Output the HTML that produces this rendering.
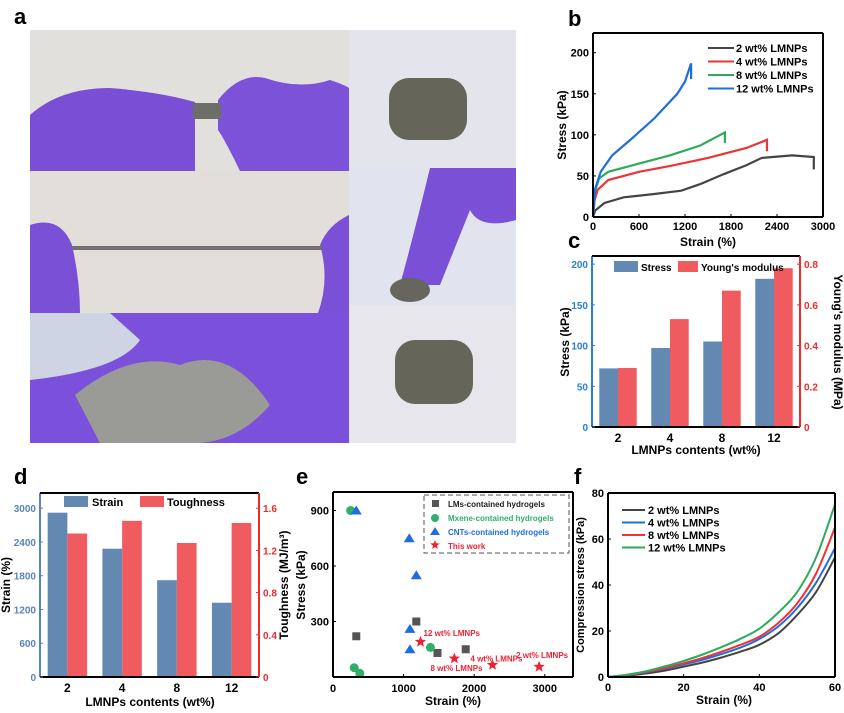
<!DOCTYPE html>
<html><head><meta charset="utf-8"><style>
html,body{margin:0;padding:0;background:#fff;}
svg{display:block;font-family:"Liberation Sans",Arial,sans-serif;}
text{font-weight:bold;}
</style></head><body>
<svg id="fig" width="844" height="713" viewBox="0 0 844 713">
<g>
<text x="14" y="24" font-size="22">a</text>
<rect x="30" y="30" width="319" height="141" fill="#e2e0dd"/>
<path d="M30 115 Q60 88 110 88 Q160 92 195 102 L195 171 L30 171Z" fill="#7a4fd6"/>
<path d="M218 100 Q240 72 265 78 Q300 90 330 80 Q345 85 349 88 L349 171 L240 171 Q225 140 218 130Z" fill="#7b52d8"/>
<rect x="193" y="103" width="28" height="16" fill="#6e6e68"/>
<rect x="30" y="171" width="319" height="142" fill="#e2dfdb"/>
<path d="M30 225 Q60 215 72 245 Q80 280 80 313 L30 313Z" fill="#7a50d6"/>
<path d="M349 215 Q328 225 320 245 Q330 280 318 313 L349 313Z" fill="#7a50d6"/>
<rect x="72" y="246" width="250" height="4" fill="#707070"/>
<rect x="30" y="313" width="319" height="130" fill="#cfd4e4"/>
<path d="M110 313 L349 313 L349 443 L30 443 L30 380 Q120 370 140 340Z" fill="#7b50db"/>
<path d="M75 395 Q130 350 180 365 Q230 345 270 405 Q240 440 200 443 L100 443Z" fill="#9a9a96"/>
<rect x="349" y="30" width="167" height="138" fill="#e4e4ec"/>
<rect x="389" y="78" width="78" height="62" rx="20" fill="#66655a"/>
<rect x="349" y="168" width="167" height="137" fill="#e1e3ee"/>
<path d="M430 168 L516 168 L516 220 Q480 230 470 210 L440 285 L400 285 Q415 230 430 168Z" fill="#7a50d6"/>
<ellipse cx="410" cy="290" rx="20" ry="12" fill="#66665f"/>
<rect x="349" y="305" width="167" height="138" fill="#e6e6ec"/>
<rect x="395" y="340" width="78" height="64" rx="20" fill="#66655a"/>
</g>
<g id="pb"></g>
<g id="pc"></g>
<g id="pd"></g>
<g id="pe"></g>
<g id="pf"></g>
</svg>
<script>
const bSeriesNames = ["2 wt% LMNPs","4 wt% LMNPs","8 wt% LMNPs","12 wt% LMNPs"];
const bColors = ["#444444","#ee3333","#2eaa5a","#1f6ee0"];
const b2 = [[0,0],[30,8],[150,17],[400,24],[800,28],[1150,32],[1400,40],[1700,52],[2000,63],[2200,72],[2600,75],[2880,73],[2880,58]];
const b4 = [[0,0],[20,20],[60,33],[200,45],[600,55],[1000,62],[1500,72],[2000,84],[2270,94],[2270,80]];
const b8 = [[0,0],[20,30],[80,47],[200,55],[600,65],[1000,75],[1400,87],[1720,103],[1720,90]];
const b12 = [[0,0],[30,35],[100,55],[250,75],[500,95],[800,120],[1100,150],[1200,165],[1280,187],[1280,168]];
const bXTicks = [0,600,1200,1800,2400,3000];
const bYTicks = [0,50,100,150,200];

const cCategories = ["2","4","8","12"];
const cStress = [72,97,105,182];
const cModulus = [0.29,0.53,0.67,0.78];
const cLeftTicks = [0,50,100,150,200];
const cRightTicks = [0,0.2,0.4,0.6,0.8];

const dCategories = ["2","4","8","12"];
const dStrain = [2920,2280,1720,1320];
const dTough = [1.36,1.48,1.27,1.46];
const dLeftTicks = [0,600,1200,1800,2400,3000];
const dRightTicks = [0,0.4,0.8,1.2,1.6];

const eSquares = [[330,220],[1180,300],[1480,130],[1880,150]];
const eCircles = [[250,900],[300,50],[380,20],[1380,160]];
const eTriangles = [[330,900],[1080,750],[1180,550],[1090,260],[1090,150]];
const eStars = [[1240,190],[1720,100],[2260,65],[2920,55]];
const eStarLabels = ["12 wt% LMNPs","4 wt% LMNPs","8 wt% LMNPs","2 wt% LMNPs"];
const eXTicks = [0,1000,2000,3000];
const eYTicks = [300,600,900];

const fStrain = [0,5,10,15,20,25,30,35,40,45,50,55,60];
const f2 = [0,0.6,1.5,2.8,4.5,6.3,8.5,11,14,19,27,37,52];
const f4 = [0,0.8,2,3.6,5.5,7.5,10,12.8,16.5,22,30,41,56];
const f8 = [0,0.9,2.2,3.9,6,8.3,11,14,17.5,23.5,32,45,65];
const f12 = [0,1,2.5,4.6,7,9.8,13,16.6,21,28,37,52,75];
const fNames = ["2 wt%  LMNPs","4 wt%  LMNPs","8 wt%  LMNPs","12 wt% LMNPs"];
const fColors = ["#444444","#1f6ee0","#ee3333","#2eaa5a"];
const fXTicks = [0,20,40,60];
const fYTicks = [0,20,40,60,80];

const NS="http://www.w3.org/2000/svg";
function mk(parent,tag,attrs,txt){const e=document.createElementNS(NS,tag);for(const k in attrs)e.setAttribute(k,attrs[k]);if(txt!==undefined)e.textContent=txt;parent.appendChild(e);return e;}
function lin(d0,d1,r0,r1){return v=>r0+(v-d0)/(d1-d0)*(r1-r0);}
function frame(g,x0,y0,x1,y1,lc,rc,tc){
  let l=mk(g,'line',{x1:x0,y1:y0,x2:x0,y2:y1,stroke:lc||'#000','stroke-width':2});
  
  let b=mk(g,'line',{x1:x0,y1:y1,x2:x1,y2:y1,stroke:'#000','stroke-width':2});
  
  mk(g,'line',{x1:x0,y1:y0,x2:x1,y2:y0,stroke:tc||'#000','stroke-width':2});
  mk(g,'line',{x1:x1,y1:y0,x2:x1,y2:y1,stroke:rc||'#000','stroke-width':2});
}
function txt(g,x,y,s,size,anchor,fill,name,rot){
  const a={x:x,y:y,'font-size':size,'text-anchor':anchor||'middle',fill:fill||'#000'};
  if(rot)a.transform=`rotate(${rot} ${x} ${y})`;
  const t=mk(g,'text',a,s);
  return t;
}
function pathFrom(pts,sx,sy){return pts.map((p,i)=>(i?'L':'M')+sx(p[0]).toFixed(1)+' '+sy(p[1]).toFixed(1)).join(' ');}
function smooth(pts){let d='M'+pts[0][0].toFixed(1)+' '+pts[0][1].toFixed(1);
 for(let i=0;i<pts.length-1;i++){const p0=pts[Math.max(0,i-1)],p1=pts[i],p2=pts[i+1],p3=pts[Math.min(pts.length-1,i+2)];
  const c1=[p1[0]+(p2[0]-p0[0])/6,p1[1]+(p2[1]-p0[1])/6],c2=[p2[0]-(p3[0]-p1[0])/6,p2[1]-(p3[1]-p1[1])/6];
  d+=`C${c1[0].toFixed(1)} ${c1[1].toFixed(1)} ${c2[0].toFixed(1)} ${c2[1].toFixed(1)} ${p2[0].toFixed(1)} ${p2[1].toFixed(1)}`;}
 return d;}

(function(){
 const g=document.getElementById('pb');
 const X0=593,X1=823,Y0=33,Y1=217;
 const sx=lin(0,3000,X0,X1), sy=lin(0,224,Y1,Y0);
 txt(g,568,26,'b',22,'start','#000','panel-label-b');
 [b2,b4,b8,b12].forEach((s,i)=>{const p=mk(g,'path',{d:pathFrom(s,sx,sy),fill:'none',stroke:bColors[i],'stroke-width':2.2});
   });
 frame(g,X0,Y0,X1,Y1);
 bXTicks.forEach(v=>{mk(g,'line',{x1:sx(v),y1:Y1,x2:sx(v),y2:Y1-3,stroke:'#000'});txt(g,sx(v),Y1+13,String(v),11,'middle','#000','x-tick-label');});
 bYTicks.forEach(v=>{mk(g,'line',{x1:X0,y1:sy(v),x2:X0+3,y2:sy(v),stroke:'#000'});txt(g,X0-4,sy(v)+4,String(v),11,'end','#000','y-tick-label');});
 txt(g,708,246,'Strain (%)',12,'middle','#000','x-axis-title');
 txt(g,566,125,'Stress (kPa)',12,'middle','#000','y-axis-title',-90);
 bSeriesNames.forEach((n,i)=>{const y=52+i*13.5;mk(g,'line',{x1:708,y1:y-4,x2:734,y2:y-4,stroke:bColors[i],'stroke-width':2});
   txt(g,736,y,n,11,'start','#000','legend-entry');});
})();

function bars(gid,X0,X1,Y0,Y1,cats,s1,s2,lmax,rmax,lt,rt,lblFmt,opt){
 const g=document.getElementById(gid);
 const syl=lin(0,lmax,Y1,Y0), syr=lin(0,rmax,Y1,Y0);
 const bw=(X1-X0)/cats.length, w=bw*0.36;
 cats.forEach((c,i)=>{
   const cx=X0+bw*(i+0.5);
   let r1=mk(g,'rect',{x:cx-w,y:syl(s1[i]),width:w,height:Y1-syl(s1[i]),fill:'#6389b3'});
   
   let r2=mk(g,'rect',{x:cx,y:syr(s2[i]),width:w,height:Y1-syr(s2[i]),fill:'#ef5b5e'});
   
   txt(g,cx,Y1+15,c,12,'middle','#000','x-tick-label');
 });
 frame(g,X0,Y0,X1,Y1,opt.lc,'#ee2a2a');
 lt.forEach(v=>{mk(g,'line',{x1:X0,y1:syl(v),x2:X0+3,y2:syl(v),stroke:opt.lc});txt(g,X0-4,syl(v)+4,String(v),10,'end',opt.lc,'left-tick-label');});
 rt.forEach(v=>{mk(g,'line',{x1:X1,y1:syr(v),x2:X1-3,y2:syr(v),stroke:'#ee2a2a'});txt(g,X1+4,syr(v)+4,lblFmt(v),10,'start','#ee2a2a','right-tick-label');});
 return g;
}
(function(){
 const g=bars('pc',592,800,256,427,cCategories,cStress,cModulus,210,0.84,cLeftTicks,cRightTicks,v=>v===0?'0':v.toFixed(1),{lc:'#2a7fd0',n1:'stress',n2:'modulus'});
 txt(g,568,248,'c',22,'start','#000','panel-label-c');
 txt(g,696,454,'LMNPs contents (wt%)',12,'middle','#000','x-axis-title');
 txt(g,569,342,'Stress (kPa)',12,'middle','#000','y-axis-title',-90);
 txt(g,834,342,"Young's modulus (MPa)",12,'middle','#000','y2-axis-title',90);
 mk(g,'rect',{x:614,y:261,width:24,height:11,fill:'#6389b3'});txt(g,641,271,'Stress',10,'start','#000','legend-entry');
 mk(g,'rect',{x:678,y:261,width:20,height:11,fill:'#ef5b5e'});txt(g,701,271,"Young's modulus",10,'start','#000','legend-entry');
})();
(function(){
 const g=bars('pd',40,259,493,677,dCategories,dStrain,dTough,3270,1.744,dLeftTicks,dRightTicks,v=>v===0?'0':v.toFixed(1),{lc:'#5a84b5',n1:'strain',n2:'toughness'});
 txt(g,14,484,'d',22,'start','#000','panel-label-d');
 txt(g,150,706,'LMNPs contents (wt%)',12,'middle','#000','x-axis-title');
 txt(g,10,585,'Strain (%)',12,'middle','#000','y-axis-title',-90);
 txt(g,288,585,'Toughness (MJ/m³)',12,'middle','#000','y2-axis-title',-90);
 mk(g,'rect',{x:64,y:496,width:24,height:11,fill:'#6389b3'});txt(g,92,506,'Strain',11,'start','#000','legend-entry');
 mk(g,'rect',{x:140,y:496,width:24,height:11,fill:'#ef5b5e'});txt(g,167,506,'Toughness',11,'start','#000','legend-entry');
})();

function star(cx,cy,r){let s='';for(let i=0;i<10;i++){const a=-Math.PI/2+i*Math.PI/5, rr=i%2?r*0.42:r;s+=(i?'L':'M')+(cx+rr*Math.cos(a)).toFixed(1)+' '+(cy+rr*Math.sin(a)).toFixed(1);}return s+'Z';}
(function(){
 const g=document.getElementById('pe');
 const X0=333,X1=573,Y0=492,Y1=677;
 const sx=lin(0,3400,X0,X1), sy=lin(0,1000,Y1,Y0);
 txt(g,296,484,'e',22,'start','#000','panel-label-e');
 eSquares.forEach(p=>{const r=mk(g,'rect',{x:sx(p[0])-4,y:sy(p[1])-4,width:8,height:8,fill:'#555'});});
 eCircles.forEach(p=>{const r=mk(g,'circle',{cx:sx(p[0]),cy:sy(p[1]),r:4.5,fill:'#2eb06a'});});
 eTriangles.forEach(p=>{const x=sx(p[0]),y=sy(p[1]);const r=mk(g,'path',{d:`M${x} ${y-5}L${x+5.5} ${y+4}L${x-5.5} ${y+4}Z`,fill:'#1f6ee0'});});
 eStars.forEach(p=>{const r=mk(g,'path',{d:star(sx(p[0]),sy(p[1]),6),fill:'#ee2233'});});
 const lo=[[3,-6,'start'],[16,3,'start'],[-10,6,'end'],[29,-9,'end']];
 eStars.forEach((p,i)=>{txt(g,sx(p[0])+lo[i][0],sy(p[1])+lo[i][1],eStarLabels[i],8,lo[i][2],'#ee2233','point-label');});
 frame(g,X0,Y0,X1,Y1);
 eXTicks.forEach(v=>{mk(g,'line',{x1:sx(v),y1:Y1,x2:sx(v),y2:Y1-3,stroke:'#000'});txt(g,sx(v),Y1+15,String(v),11,'middle','#000','x-tick-label');});
 eYTicks.forEach(v=>{mk(g,'line',{x1:X0,y1:sy(v),x2:X0+3,y2:sy(v),stroke:'#000'});txt(g,X0-4,sy(v)+4,String(v),11,'end','#000','y-tick-label');});
 txt(g,453,705,'Strain (%)',12,'middle','#000','x-axis-title');
 txt(g,305,585,'Stress (kPa)',12,'middle','#000','y-axis-title',-90);
 mk(g,'rect',{x:424,y:495,width:145,height:58,fill:'none',stroke:'#555','stroke-dasharray':'5,3'});
 mk(g,'rect',{x:432,y:500,width:7,height:7,fill:'#555'});txt(g,448,507,'LMs-contained hydrogels',8,'start','#222','legend-entry');
 mk(g,'circle',{cx:435,cy:518,r:4,fill:'#2eb06a'});txt(g,448,521,'Mxene-contained hydrogels',8,'start','#2eb06a','legend-entry');
 mk(g,'path',{d:'M435 527L440 535L430 535Z',fill:'#1f6ee0'});txt(g,448,535,'CNTs-contained hydrogels',8,'start','#1f6ee0','legend-entry');
 mk(g,'path',{d:star(435,545,5),fill:'#ee2233'});txt(g,448,549,'This work',8,'start','#ee2233','legend-entry');
})();

(function(){
 const g=document.getElementById('pf');
 const X0=608,X1=835,Y0=493,Y1=677;
 const sx=lin(0,60,X0,X1), sy=lin(0,80,Y1,Y0);
 txt(g,574,484,'f',22,'start','#000','panel-label-f');
 [f2,f4,f8,f12].forEach((s,i)=>{
   const pts=fStrain.map((x,j)=>[sx(x),sy(s[j])]);
   const p=mk(g,'path',{d:smooth(pts),fill:'none',stroke:fColors[i],'stroke-width':2});
   });
 frame(g,X0,Y0,X1,Y1);
 fXTicks.forEach(v=>{mk(g,'line',{x1:sx(v),y1:Y1,x2:sx(v),y2:Y1-3,stroke:'#000'});txt(g,sx(v),Y1+14,String(v),11,'middle','#000','x-tick-label');});
 fYTicks.forEach(v=>{mk(g,'line',{x1:X0,y1:sy(v),x2:X0+3,y2:sy(v),stroke:'#000'});txt(g,X0-4,sy(v)+4,String(v),11,'end','#000','y-tick-label');});
 txt(g,724,704,'Strain (%)',12,'middle','#000','x-axis-title');
 txt(g,584,585,'Compression stress (kPa)',11,'middle','#000','y-axis-title',-90);
 fNames.forEach((n,i)=>{const y=514+i*12.5;mk(g,'line',{x1:622,y1:y-4,x2:645,y2:y-4,stroke:fColors[i],'stroke-width':2});txt(g,648,y,n,11,'start','#000','legend-entry');});
})();
</script>
</body></html>
